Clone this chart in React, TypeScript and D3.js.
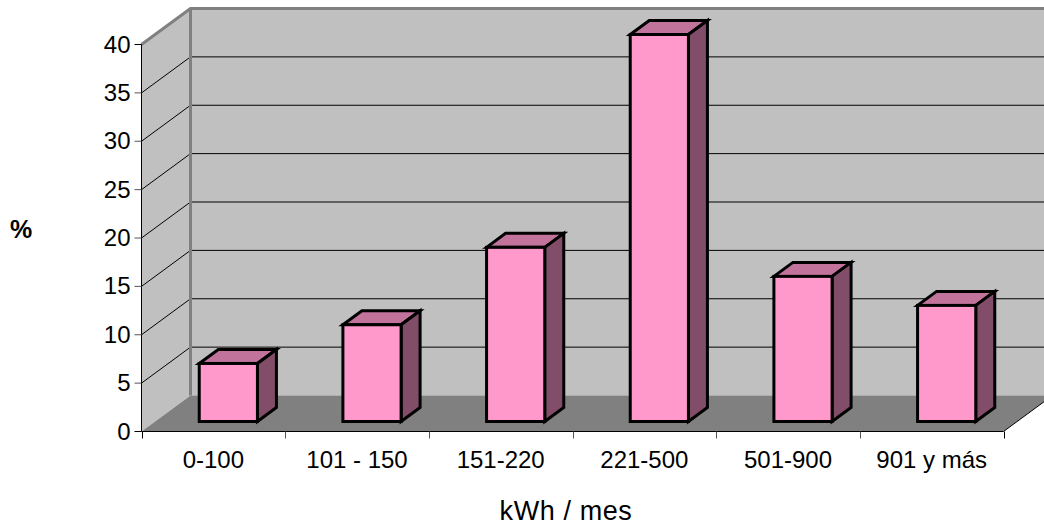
import React from "react";
import * as d3 from "d3";

const categories = ["0-100", "101 - 150", "151-220", "221-500", "501-900", "901 y más"];
const values = [6, 10, 18, 40, 15, 12];
const yTicks = [0, 5, 10, 15, 20, 25, 30, 35, 40];
const xTitle = "kWh / mes";
const yTitle = "%";

const W = 1044, H = 527;
const x0 = 141.5, x1 = 1003.5, yBase = 431.5, yTop = 44.5;
const DX = 49, DY = -36;
const barDX = 15, barDY = -10;
const depthDX = 19, depthDY = -14;

const y = d3.scaleLinear().domain([0, 40]).range([yBase, yTop]);
const xb = d3.scaleBand<string>().domain(categories).range([x0, x1]).paddingInner(0.595).paddingOuter(0.2975);

const pts = (p: number[][]) => p.map((q) => q.join(",")).join(" ");
const FONT = "'Liberation Sans', Arial, sans-serif";

export default function App() {
  const edges = d3.range(categories.length + 1).map((i) => x0 + ((x1 - x0) * i) / categories.length);
  return (
    <svg width={W} height={H} viewBox={`0 0 ${W} ${H}`} style={{ position: "absolute", left: 0, top: 0, background: "#fff" }} fontFamily={FONT}>
      <rect x={x0 + DX} y={yTop + DY} width={W} height={yBase - yTop} fill="#c0c0c0" />
      <polygon points={pts([[x0, yBase], [x0, yTop], [x0 + DX, yTop + DY], [x0 + DX, yBase + DY]])} fill="#c0c0c0" />
      <polygon points={pts([[x0, yBase], [x1, yBase], [x1 + DX, yBase + DY], [x0 + DX, yBase + DY]])} fill="#808080" />
      {yTicks.filter((t) => t > 0).map((t) => (
        <g key={t} stroke="#000" strokeWidth={1}>
          <line x1={x0} y1={y(t)} x2={x0 + DX} y2={y(t) + DY} />
          <line x1={x0 + DX} y1={y(t) + DY} x2={W} y2={y(t) + DY} />
        </g>
      ))}
      <polyline points={pts([[x0, yTop], [x0 + DX, yTop + DY], [W, yTop + DY]])} fill="none" stroke="#808080" strokeWidth={3} />
      <line x1={x0 + DX} y1={yTop + DY} x2={x0 + DX} y2={yBase + DY} stroke="#808080" strokeWidth={3} />
      <line x1={x1} y1={yBase} x2={x1 + DX} y2={yBase + DY} stroke="#000" strokeWidth={1} />
      <line x1={x0} y1={yTop} x2={x0} y2={yBase} stroke="#000" strokeWidth={1} />
      <line x1={x0} y1={yBase} x2={x1} y2={yBase} stroke="#000" strokeWidth={1} />
      {yTicks.map((t) => (
        <g key={t}>
          <line x1={x0 - 7} x2={x0} y1={y(t)} y2={y(t)} stroke={t === 0 || t === 40 ? "#000" : "#555"} />
          <text x={x0 - 11} y={y(t) + 8} textAnchor="end" fontSize={24}>{t}</text>
        </g>
      ))}
      {edges.map((e, i) => (
        <line key={i} x1={Math.round(e) + 0.5} x2={Math.round(e) + 0.5} y1={yBase} y2={yBase + 7} stroke={i === 0 || i === 6 ? "#000" : "#555"} />
      ))}
      {categories.map((c, i) => {
        const l = (xb(c) as number) + barDX;
        const r = l + xb.bandwidth();
        const b = y(0) + barDY;
        const t = y(values[i]) + barDY;
        return (
          <g key={c} stroke="#000" strokeWidth={3} strokeLinejoin="miter">
            <polygon points={pts([[l, t], [l + depthDX, t + depthDY], [r + depthDX, t + depthDY], [r, t]])} fill="#c1739c" />
            <polygon points={pts([[r, t], [r + depthDX, t + depthDY], [r + depthDX, b + depthDY], [r, b]])} fill="#814d68" />
            <rect x={l} y={t} width={r - l} height={b - t} fill="#ff99cc" />
          </g>
        );
      })}
      {categories.map((c, i) => (
        <text key={c} x={(edges[i] + edges[i + 1]) / 2} y={468} textAnchor="middle" fontSize={24}>{c}</text>
      ))}
      <text x={566} y={520} textAnchor="middle" fontSize={27} letterSpacing={0.6}>{xTitle}</text>
      <text x={21} y={238} textAnchor="middle" fontSize={25} fontWeight="bold">{yTitle}</text>
    </svg>
  );
}
